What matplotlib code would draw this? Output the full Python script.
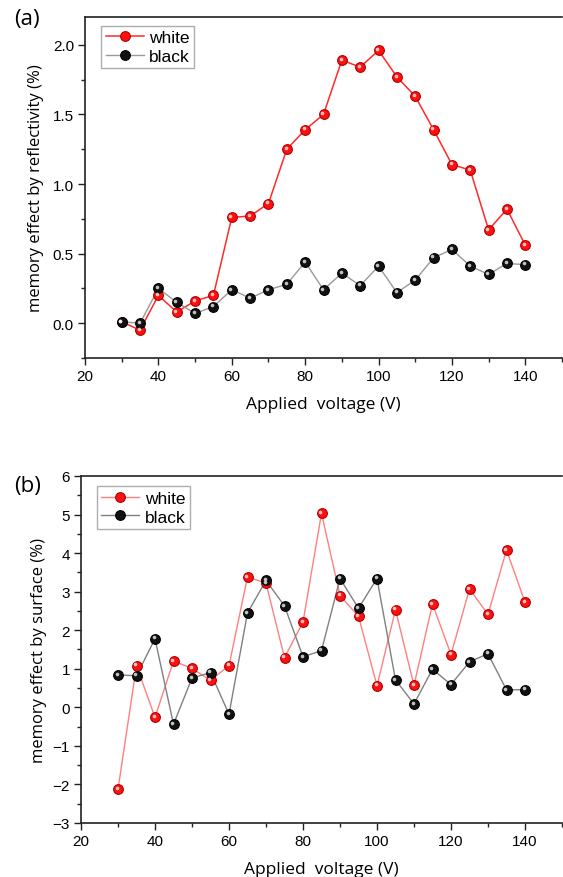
import matplotlib
matplotlib.use("Agg")
import matplotlib.pyplot as plt
import matplotlib.transforms as mtransforms
from matplotlib.ticker import MultipleLocator

plt.rcParams['font.family'] = ['Liberation Sans', 'DejaVu Sans']

# applied voltage (V)
voltage = [30, 35, 40, 45, 50, 55, 60, 65, 70, 75, 80, 85, 90,
           95, 100, 105, 110, 115, 120, 125, 130, 135, 140]

# (a) memory effect by reflectivity (%)
refl_white = [0.01, -0.05, 0.20, 0.08, 0.16, 0.20, 0.76, 0.77, 0.86, 1.25, 1.39, 1.50, 1.89,
              1.84, 1.96, 1.77, 1.63, 1.39, 1.14, 1.10, 0.67, 0.82, 0.56]
refl_black = [0.01, 0.00, 0.25, 0.15, 0.07, 0.12, 0.24, 0.18, 0.24, 0.28, 0.44, 0.24, 0.36,
              0.27, 0.41, 0.22, 0.31, 0.47, 0.53, 0.41, 0.35, 0.43, 0.42]

# (b) memory effect by surface (%)
surf_white = [-2.13, 1.08, -0.26, 1.20, 1.01, 0.70, 1.08, 3.38, 3.22, 1.29, 2.21, 5.03, 2.90,
              2.36, 0.56, 2.53, 0.57, 2.68, 1.37, 3.07, 2.41, 4.08, 2.73]
surf_black = [0.84, 0.82, 1.78, -0.44, 0.76, 0.90, -0.18, 2.45, 3.29, 2.63, 1.31, 1.47, 3.34,
              2.57, 3.34, 0.71, 0.09, 0.99, 0.59, 1.18, 1.39, 0.45, 0.46]

fig = plt.figure(figsize=(5.63, 8.78), dpi=100)
ax1 = fig.add_axes([85 / 563, 1 - 359 / 878, 477 / 563, 341 / 878])
ax2 = fig.add_axes([81 / 563, 1 - 824 / 878, 481 / 563, 347 / 878])


def ball_series(ax, x, y, face, edge, line_color, label, lw=1.0):
    """line + shaded 'ball' markers, roughly like Origin's sphere symbol"""
    ax.plot(x, y, '-', color=line_color, lw=lw, zorder=2)
    ax.plot(x, y, 'o', ms=7.0, mfc=face, mec=edge, mew=0.8, zorder=3)
    # small highlight shifted up-left to fake the 3D look
    shift = mtransforms.offset_copy(ax.transData, fig=fig, x=-1.3, y=1.3, units='dots')
    ax.plot(x, y, 'o', ms=2.6, mfc='white', mec='none', alpha=0.75,
            transform=shift, zorder=4)
    # proxy handle for the legend (line through marker)
    proxy, = ax.plot([], [], '-o', color=line_color, lw=lw, ms=7.0,
                     mfc=face, mec=edge, mew=0.8, label=label)
    return proxy


def style_axes(ax, ylim, ymajor, yminor, ylabel, ypad):
    ax.set_xlim(20, 150)
    ax.set_ylim(*ylim)
    ax.xaxis.set_major_locator(MultipleLocator(20))
    ax.xaxis.set_minor_locator(MultipleLocator(10))
    ax.yaxis.set_major_locator(MultipleLocator(ymajor))
    ax.yaxis.set_minor_locator(MultipleLocator(yminor))
    ax.tick_params(which='both', direction='out', top=False, right=False,
                   width=1.0, color='#222222', labelsize=11, pad=3)
    ax.tick_params(which='major', length=5)
    ax.tick_params(which='minor', length=3)
    for s in ['left', 'bottom', 'top']:
        ax.spines[s].set_linewidth(1.2)
        ax.spines[s].set_color('#222222')
    ax.spines['right'].set_visible(False)
    ax.set_xlabel('Applied  voltage (V)', family=['Open Sans', 'DejaVu Sans'],
                  fontsize=12.5, labelpad=9)
    ax.set_ylabel(ylabel, family=['Open Sans', 'DejaVu Sans'], fontsize=12, labelpad=ypad)


def add_legend(ax, handles, anchor):
    leg = ax.legend(handles=handles, loc='upper left', bbox_to_anchor=anchor,
                    fontsize=12.5, frameon=True, fancybox=False, handlelength=2.2,
                    handletextpad=0.3, borderpad=0.25, labelspacing=0.2, borderaxespad=0)
    leg.get_frame().set_edgecolor('#999999')
    leg.get_frame().set_linewidth(1.0)
    return leg


# --- (a) reflectivity ---
pa_w = ball_series(ax1, voltage, refl_white, '#ff1010', '#b00000', '#ff2a2a', 'white', lw=1.1)
pa_b = ball_series(ax1, voltage, refl_black, '#111111', '#000000', '#999999', 'black', lw=1.0)
style_axes(ax1, (-0.25, 2.2), 0.5, 0.25, 'memory effect by reflectivity (%)', 6)
ax1.yaxis.set_major_formatter(lambda v, pos: f'{v:.1f}')
add_legend(ax1, [pa_w, pa_b], (0.034, 0.975))
fig.text(14 / 563, 1 - 20 / 878, '(a)', family=['Open Sans', 'DejaVu Sans'],
         fontsize=16, va='center', ha='left')

# --- (b) surface ---
pb_w = ball_series(ax2, voltage, surf_white, '#ff1010', '#b00000', '#ff8080', 'white', lw=1.0)
pb_b = ball_series(ax2, voltage, surf_black, '#111111', '#000000', '#808080', 'black', lw=1.0)
style_axes(ax2, (-3, 6), 1, 0.5, 'memory effect by surface (%)', 4)
add_legend(ax2, [pb_w, pb_b], (0.033, 0.97))
fig.text(14 / 563, 1 - 487 / 878, '(b)', family=['Open Sans', 'DejaVu Sans'],
         fontsize=16, va='center', ha='left')

fig.savefig('out.png', dpi=100)
